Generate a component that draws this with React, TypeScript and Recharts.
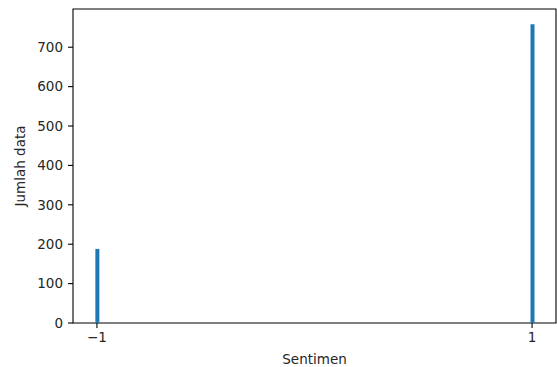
import React from 'react';
import { BarChart, Bar, XAxis, YAxis, ReferenceArea } from 'recharts';

// sentiment classes and how many rows fall into each
const sentimen = [-1, 1];
const jumlah = [188, 758];

const xTicks = [-1, 1];
const yTicks = [0, 100, 200, 300, 400, 500, 600, 700];

const data = sentimen.map((s, i) => ({ sentimen: s, jumlah: jumlah[i] }));

const X_DOMAIN: [number, number] = [-1.11, 1.11];
const Y_DOMAIN: [number, number] = [0, 797];

const font = 'DejaVu Sans, sans-serif';
const textColor = '#262626';
const tickStyle = { fill: textColor, fontSize: 13.5, fontFamily: font };
const labelStyle = { fill: textColor, fontSize: 13.5, fontFamily: font };

const minus = (v: number) => String(v).replace('-', '\u2212');

export default function App() {
  return (
    <div style={{ position: 'absolute', left: 0, top: 0, background: '#fff' }}>
      <BarChart
        width={557}
        height={367}
        data={data}
        margin={{ top: 9, right: 1, bottom: 0, left: 0 }}
        barSize={4}
      >
        <XAxis
          dataKey="sentimen"
          type="number"
          domain={X_DOMAIN}
          ticks={xTicks}
          tickFormatter={minus}
          height={44}
          axisLine={false}
          tickLine={{ stroke: '#000', strokeWidth: 1.1 }}
          tickSize={5}
          tickMargin={4}
          tick={tickStyle}
          allowDataOverflow
          label={{ value: 'Sentimen', position: 'insideBottom', offset: 3, style: labelStyle }}
        />
        <YAxis
          type="number"
          domain={Y_DOMAIN}
          ticks={yTicks}
          width={73}
          axisLine={false}
          tickLine={{ stroke: '#000', strokeWidth: 1.1 }}
          tickSize={5}
          tickMargin={5}
          tick={tickStyle}
          allowDataOverflow
          label={{ value: 'Jumlah data', angle: -90, position: 'insideLeft', offset: 20, style: { ...labelStyle, textAnchor: 'middle' } }}
        />
        <Bar dataKey="jumlah" fill="#1f77b4" isAnimationActive={false} />
        <ReferenceArea
          x1={X_DOMAIN[0]}
          x2={X_DOMAIN[1]}
          y1={Y_DOMAIN[0]}
          y2={Y_DOMAIN[1]}
          fill="none"
          stroke="#000"
          strokeWidth={1.1}
        />
      </BarChart>
    </div>
  );
}
